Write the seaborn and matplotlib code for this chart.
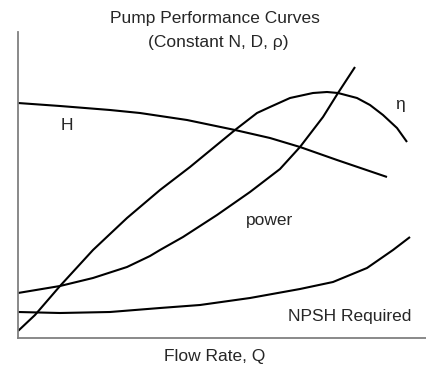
import matplotlib
matplotlib.use("Agg")
import matplotlib.pyplot as plt
import seaborn as sns
import pandas as pd

sns.set_style("white")
plt.rcParams["font.family"] = ["Liberation Sans", "DejaVu Sans"]

# Flow rate (arbitrary units) and the characteristic curves of a pump
q_head = [0, 42, 92, 122, 169, 217, 252, 282, 319, 369]
head = [235, 232, 228, 225, 218, 208, 200, 191, 178, 161]

q_eff = [0, 17, 42, 75, 109, 142, 172, 217, 239, 252, 272, 295, 309, 320,
         339, 352, 365, 379, 389]
efficiency = [7, 23, 52, 88, 120, 148, 171, 208, 225, 231, 240, 245, 246, 245,
              240, 233, 223, 210, 196]

q_power = [0, 42, 75, 109, 132, 142, 165, 199, 232, 262, 282, 305, 320, 337]
power = [45, 52, 60, 71, 82, 88, 101, 123, 146, 169, 191, 221, 245, 271]

q_npsh = [0, 42, 92, 142, 182, 232, 282, 315, 349, 375, 392]
npsh = [26, 25, 26, 30, 33, 40, 49, 56, 70, 88, 101]

curves = [
    (q_head, head),
    (q_eff, efficiency),
    (q_power, power),
    (q_npsh, npsh),
]

fig = plt.figure(figsize=(4.27, 3.68), dpi=100)
ax = fig.add_axes([18 / 427, 30 / 368, 1 - 18 / 427, (338 - 32) / 368])

for q, val in curves:
    df = pd.DataFrame({"Q": q, "value": val})
    sns.lineplot(data=df, x="Q", y="value", ax=ax, color="black",
                 linewidth=1.5, sort=False, estimator=None,
                 solid_joinstyle="round", solid_capstyle="butt")

ax.set_xlim(0, 409)
ax.set_ylim(0, 306)
ax.set_xticks([])
ax.set_yticks([])
ax.set_xlabel("")
ax.set_ylabel("")
for side in ("top", "right"):
    ax.spines[side].set_visible(False)
for side in ("left", "bottom"):
    ax.spines[side].set_color("#808080")
    ax.spines[side].set_linewidth(1.3)

fs = 12.5
ax.text(49, 213, "H", fontsize=fs, ha="center", va="center")
ax.text(382, 233, "η", fontsize=fs, ha="center", va="center")
ax.text(252, 118, "power", fontsize=fs, ha="center", va="center")
ax.text(332, 21, "NPSH Required", fontsize=fs, ha="center", va="center")

fig.text(215 / 427, 1 - 18 / 368, "Pump Performance Curves", fontsize=fs,
         ha="center", va="center")
fig.text(218 / 427, 1 - 42 / 368, "(Constant N, D, ρ)", fontsize=fs,
         ha="center", va="center")
fig.text(215 / 427, 1 - 357 / 368, "Flow Rate, Q", fontsize=fs,
         ha="center", va="center")

fig.savefig("out.png", dpi=100)
